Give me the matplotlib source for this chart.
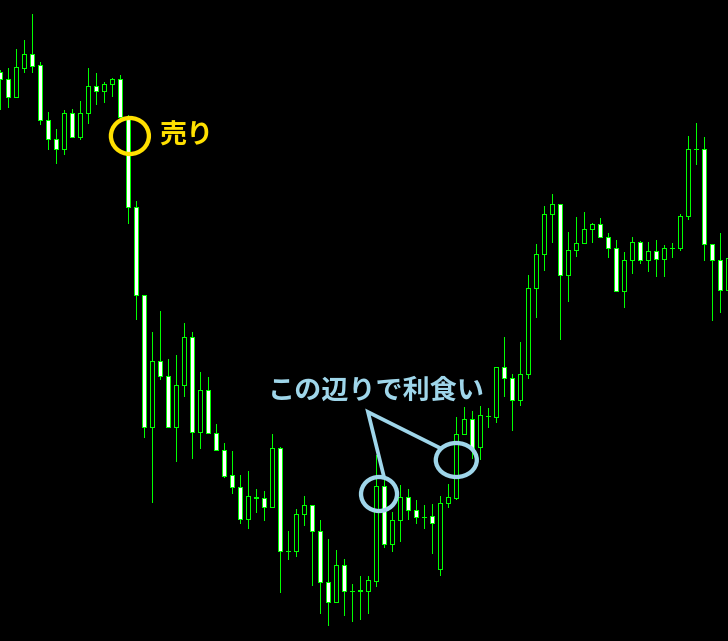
import matplotlib
matplotlib.use("Agg")
import matplotlib.pyplot as plt
from matplotlib.patches import Rectangle, Ellipse

# OHLC values (price units, arbitrary)
opens = [569, 562, 544, 573, 587, 576, 521, 502, 492, 528,
         504, 528, 555, 550, 557, 562, 524, 434, 346, 214,
         280, 265, 214, 256, 304, 209, 251, 208, 191, 166,
         154, 122, 143, 143, 134, 193, 90, 90, 127, 136,
         110, 59, 39, 76, 50, 50, 50, 60, 155, 97,
         121, 144, 131, 124, 125, 72, 138, 143, 207, 222,
         194, 225, 224, 274, 263, 241, 267, 353, 387, 427,
         437, 366, 391, 398, 412, 417, 404, 393, 350, 381,
         399, 381, 390, 382, 393, 393, 425, 492, 492, 397,
         381, 351]
highs = [571, 573, 592, 601, 627, 579, 529, 512, 531, 532,
         540, 573, 568, 559, 563, 566, 526, 440, 346, 309,
         330, 282, 286, 318, 309, 269, 264, 217, 198, 190,
         166, 170, 152, 150, 207, 194, 110, 132, 145, 136,
         121, 102, 91, 82, 57, 65, 65, 186, 163, 129,
         156, 152, 141, 136, 137, 145, 157, 224, 234, 230,
         235, 233, 274, 304, 267, 299, 366, 397, 435, 447,
         437, 409, 424, 429, 418, 423, 408, 401, 389, 404,
         400, 399, 401, 396, 398, 427, 505, 518, 504, 397,
         408, 391]
lows = [532, 534, 544, 569, 569, 517, 492, 478, 487, 504,
        502, 518, 537, 539, 545, 521, 418, 322, 204, 139,
        262, 214, 180, 245, 183, 193, 208, 191, 164, 148,
        118, 113, 129, 121, 134, 49, 82, 85, 116, 56,
        28, 16, 39, 26, 20, 22, 28, 55, 94, 90,
        100, 122, 118, 113, 88, 66, 134, 142, 207, 183,
        182, 214, 219, 245, 211, 236, 263, 324, 371, 399,
        302, 340, 385, 398, 399, 404, 384, 350, 334, 368,
        378, 370, 365, 365, 384, 391, 422, 477, 381, 321,
        329, 341]
closes = [562, 544, 574, 587, 575, 521, 502, 492, 528, 504,
          528, 555, 550, 557, 562, 524, 434, 346, 214, 280,
          265, 214, 256, 304, 209, 251, 208, 191, 165, 154,
          122, 145, 144, 134, 193, 90, 90, 127, 136, 110,
          59, 39, 76, 50, 50, 51, 61, 155, 97, 121,
          144, 131, 124, 124, 118, 138, 144, 207, 222, 193,
          226, 225, 274, 263, 241, 267, 353, 387, 427, 437,
          366, 391, 398, 412, 417, 404, 393, 350, 381, 399,
          381, 390, 382, 393, 393, 425, 492, 492, 397, 381,
          351, 383]

sell_label = "売り"
take_profit_label = "この辺りで利食い"

GREEN = "#00FF00"
YELLOW = "#FFE000"
LIGHTBLUE = "#9FD6EA"

fig = plt.figure(figsize=(7.28, 6.41), dpi=100, facecolor="black")
ax = fig.add_axes([0, 0, 1, 1])
ax.set_facecolor("black")
ax.set_xlim(-0.0375, 90.9625)
ax.set_ylim(0, 641)
ax.axis("off")

LW = 0.72  # one pixel
half = 0.25
for i, (o, h, l, c) in enumerate(zip(opens, highs, lows, closes)):
    ax.vlines(i, l, h, colors=GREEN, linewidth=LW, antialiased=False, zorder=1)
    bottom = min(o, c)
    height = abs(c - o)
    face = "black" if c > o else ("white" if c < o else GREEN)
    ax.add_patch(Rectangle((i - half, bottom), 2 * half, height,
                           facecolor=face, edgecolor=GREEN, linewidth=LW,
                           antialiased=False, zorder=2))

# Annotations
ax.add_patch(Ellipse((16.2, 505), 4.75, 36, fill=False, edgecolor=YELLOW,
                     linewidth=3.1, zorder=5))
ax.text(19.84, 505, sell_label, color=YELLOW, fontsize=19.5, fontweight="bold",
        family=["Noto Sans CJK JP", "DejaVu Sans"], ha="left", va="center", zorder=6)

ax.add_patch(Ellipse((47.34, 147), 4.5, 34, fill=False, edgecolor=LIGHTBLUE,
                     linewidth=3.1, zorder=5))
ax.add_patch(Ellipse((57.0, 181), 5.125, 34, fill=False, edgecolor=LIGHTBLUE,
                     linewidth=3.1, zorder=5))
ax.plot([47.96, 45.96, 54.96], [164, 229, 193], color=LIGHTBLUE,
        linewidth=2.7, solid_joinstyle="miter", zorder=5)
ax.text(33.46, 250, take_profit_label, color=LIGHTBLUE, fontsize=19.5,
        fontweight="bold", family=["Noto Sans CJK JP", "DejaVu Sans"],
        ha="left", va="center", zorder=6)

fig.savefig("out.png", dpi=100, facecolor="black")
